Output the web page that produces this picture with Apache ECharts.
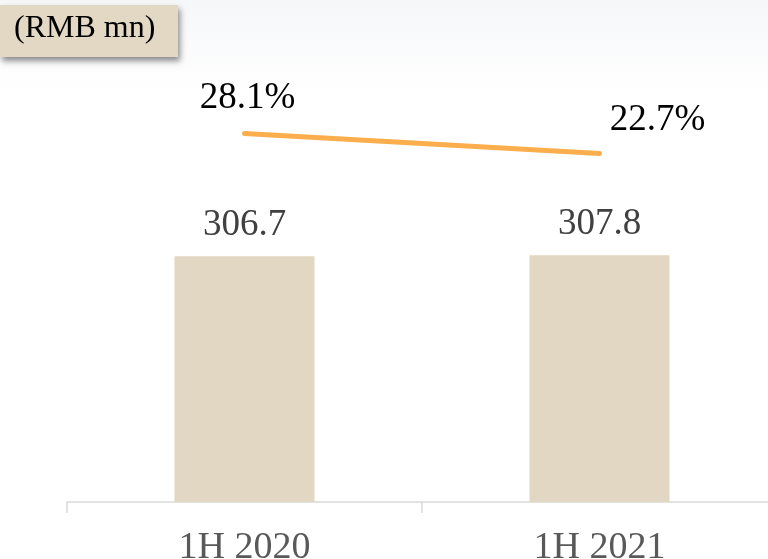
<!DOCTYPE html>
<html>
<head>
<meta charset="utf-8">
<script src="https://cdn.jsdelivr.net/npm/echarts@6/dist/echarts.min.js"></script>
<style>
html,body{margin:0;padding:0;background:#fff;}
#chart{width:768px;height:559px;}
</style>
</head>
<body>
<div id="chart"></div>
<script>
var categories = ['1H 2020', '1H 2021'];
var revenue = [306.7, 307.8];
var margin = [28.1, 22.7];
var unitLabel = '(RMB mn)';

var chart = echarts.init(document.getElementById('chart'), null, {renderer: 'canvas'});
var serif = '"Liberation Serif", "Times New Roman", serif';

chart.setOption({
  backgroundColor: '#ffffff',
  animation: false,
  graphic: [
    {
      type: 'rect', left: 0, top: 0, z: -10, silent: true,
      shape: {width: 768, height: 95},
      style: {
        fill: new echarts.graphic.LinearGradient(0, 0, 0, 1, [
          {offset: 0, color: '#f6f7f9'},
          {offset: 1, color: '#ffffff'}
        ])
      }
    },
    {
      type: 'rect', left: 0, top: 5, z: 10,
      shape: {width: 178, height: 52},
      style: {
        fill: '#e2d8c4',
        shadowBlur: 6, shadowOffsetX: 2, shadowOffsetY: 4,
        shadowColor: 'rgba(0,0,0,0.45)'
      }
    },
    {
      type: 'text', left: 14, top: 13, z: 11,
      style: {text: unitLabel, fontSize: 32, fontFamily: serif, fill: '#000000'}
    }
  ],
  grid: {left: 67, width: 710, top: 21, bottom: 57, containLabel: false, outerBoundsMode: 'none'},
  xAxis: {
    type: 'category',
    data: categories,
    boundaryGap: true,
    axisLine: {lineStyle: {color: '#d9d9d9', width: 1.5}},
    axisTick: {show: true, inside: false, length: 11, lineStyle: {color: '#d9d9d9', width: 1.5}},
    axisLabel: {color: '#595959', fontFamily: serif, fontSize: 38, margin: 27}
  },
  yAxis: [
    {type: 'value', min: 0, max: 600, show: false, splitLine: {show: false}},
    {type: 'value', min: -71.5, max: 58.5, show: false, splitLine: {show: false}}
  ],
  series: [
    {
      type: 'bar',
      data: revenue,
      barWidth: 140,
      itemStyle: {color: '#e1d7c3'},
      label: {
        show: true, position: 'top', distance: 12,
        color: '#404040', fontFamily: serif, fontSize: 37,
        formatter: function (p) { return p.value.toFixed(1); }
      }
    },
    {
      type: 'line',
      yAxisIndex: 1,
      data: margin,
      symbol: 'circle',
      symbolSize: 2,
      showSymbol: true,
      itemStyle: {color: 'rgba(251,174,75,0)', borderWidth: 0},
      lineStyle: {color: '#fbae4b', width: 5, cap: 'round'},
      label: {
        show: true, position: 'top', distance: 20,
        color: '#000000', fontFamily: serif, fontSize: 37,
        formatter: function (p) { return p.value.toFixed(1) + '%'; }
      },
      labelLayout: function (params) {
        if (params.dataIndex === 1) {
          return {dx: 58, dy: 6, hideOverlap: false};
        }
        return {dx: 3, dy: 4, hideOverlap: false};
      }
    }
  ]
});
</script>
</body>
</html>
